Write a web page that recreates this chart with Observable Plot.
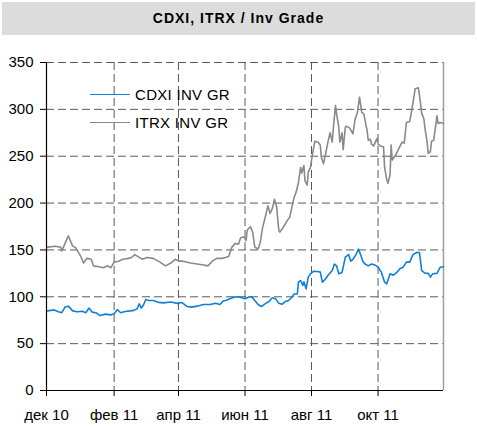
<!DOCTYPE html>
<html>
<head>
<meta charset="utf-8">
<script src="https://cdn.jsdelivr.net/npm/d3@7"></script>
<script src="https://cdn.jsdelivr.net/npm/@observablehq/plot@0.6"></script>
<style>
  html, body { margin: 0; padding: 0; background: #fff; }
  body { width: 477px; height: 428px; position: relative; overflow: hidden; font-family: "Liberation Sans", Arial, sans-serif; }
  #title { position: absolute; left: 2px; top: 2px; width: 473px; height: 33px; background: #dcdcdc;
           font: bold 14px "Liberation Sans", Arial, sans-serif; letter-spacing: 1px; line-height: 33px; text-align: center; color: #000; }
  #chart { position: absolute; left: 0; top: 35px; }
  .leg { position: absolute; left: 90px; height: 18px; font-size: 15px; line-height: 18px; color: #000; white-space: nowrap; }
  .leg .sw { position: absolute; left: 0; width: 40px; top: 8px; height: 0; }
  .leg .lbl { position: absolute; left: 45px; top: 0; letter-spacing: 0.3px; }
</style>
</head>
<body>
<div id="title">CDXI, ITRX / Inv Grade</div>
<div id="chart"></div>
<div id="legend"></div>
<script>
// ---- data ----
const seriesNames = ["CDXI INV GR", "ITRX INV GR"];
const seriesColors = ["#0f80d8", "#8a8a8a"];

const cdxiDates = ["2010-12-02","2010-12-08","2010-12-12","2010-12-15","2010-12-18","2010-12-21","2010-12-25","2010-12-29",
"2011-01-03","2011-01-06","2011-01-09","2011-01-12","2011-01-16","2011-01-19","2011-01-24","2011-01-29",
"2011-02-01","2011-02-04","2011-02-07","2011-02-11","2011-02-16","2011-02-19","2011-02-22","2011-02-24","2011-02-26","2011-02-28",
"2011-03-02","2011-03-05","2011-03-09","2011-03-14","2011-03-18","2011-03-25","2011-03-31",
"2011-04-04","2011-04-09","2011-04-13","2011-04-18","2011-04-24","2011-04-30",
"2011-05-05","2011-05-09","2011-05-12","2011-05-15","2011-05-18","2011-05-22","2011-05-26","2011-05-29",
"2011-06-01","2011-06-04","2011-06-07","2011-06-10","2011-06-13","2011-06-16","2011-06-20","2011-06-23","2011-06-26","2011-06-29",
"2011-07-02","2011-07-05","2011-07-08","2011-07-11","2011-07-14","2011-07-16","2011-07-19","2011-07-20","2011-07-22","2011-07-24","2011-07-25","2011-07-27","2011-07-29","2011-07-31",
"2011-08-03","2011-08-06","2011-08-09","2011-08-11","2011-08-14","2011-08-16","2011-08-20","2011-08-22","2011-08-24","2011-08-26","2011-08-29",
"2011-09-01","2011-09-04","2011-09-06","2011-09-08","2011-09-11","2011-09-13","2011-09-15","2011-09-17","2011-09-19","2011-09-22","2011-09-25","2011-09-28",
"2011-10-01","2011-10-04","2011-10-07","2011-10-09","2011-10-12","2011-10-15","2011-10-18","2011-10-21","2011-10-24","2011-10-27","2011-10-30",
"2011-11-02","2011-11-06","2011-11-08","2011-11-10","2011-11-13","2011-11-16","2011-11-18","2011-11-20","2011-11-24","2011-11-27","2011-11-30"];
const cdxiValues = [85,86,84,83,89,90,85,84,
84.5,83,88,83.6,82.6,80,81.5,80.7,
81.8,86.4,83,84.3,85,85.5,87,92.5,88,91.5,
97,96,96,94,93.5,94.5,93,
94,89.6,89,90,91.8,91.8,
93.2,91.8,95.4,96.4,97.8,99.6,100,99,
98,99.6,100,96,91.8,89.6,93,95,98.9,98,
93,92,95,96,99.6,103,103,115.6,117.4,112,116,108.5,121,124.5,
127.3,127,126.4,115.6,119.2,122.7,128,135,133,124.5,126,
142.3,145,138,140,145.5,151,145,138,135,133,135,134,
131.6,126.3,115.6,113.8,124.5,123,125.7,130,131.6,137,137,
145,147.6,147,128,125.2,125,121,124.5,125,131.6,132];

const itrxDates = ["2010-12-02","2010-12-09","2010-12-14","2010-12-15","2010-12-21","2010-12-25","2010-12-28",
"2011-01-01","2011-01-04","2011-01-07","2011-01-11","2011-01-13","2011-01-18","2011-01-22","2011-01-26","2011-01-29",
"2011-02-01","2011-02-05","2011-02-09","2011-02-14","2011-02-17","2011-02-20","2011-02-24","2011-02-27",
"2011-03-03","2011-03-09","2011-03-15","2011-03-20","2011-03-25","2011-03-29",
"2011-04-01","2011-04-05","2011-04-12","2011-04-18","2011-04-24","2011-04-28",
"2011-05-02","2011-05-06","2011-05-11","2011-05-14","2011-05-17","2011-05-20","2011-05-23","2011-05-26","2011-05-28","2011-05-31",
"2011-06-02","2011-06-03","2011-06-06","2011-06-08","2011-06-10","2011-06-13","2011-06-15","2011-06-17","2011-06-20","2011-06-22","2011-06-24","2011-06-26","2011-06-28","2011-06-30",
"2011-07-02","2011-07-03","2011-07-06","2011-07-09","2011-07-12","2011-07-16","2011-07-18","2011-07-20","2011-07-22","2011-07-23","2011-07-25","2011-07-26","2011-07-28","2011-07-29","2011-07-31",
"2011-08-01","2011-08-04","2011-08-07","2011-08-09","2011-08-10","2011-08-12","2011-08-14","2011-08-16","2011-08-18","2011-08-20","2011-08-21","2011-08-23","2011-08-24","2011-08-26","2011-08-27","2011-08-29","2011-08-30",
"2011-09-01","2011-09-02","2011-09-05","2011-09-08","2011-09-10","2011-09-12","2011-09-14","2011-09-16","2011-09-18","2011-09-21","2011-09-22","2011-09-24","2011-09-25","2011-09-27","2011-09-30",
"2011-10-01","2011-10-03","2011-10-06","2011-10-07","2011-10-09","2011-10-10","2011-10-12","2011-10-13","2011-10-14","2011-10-17","2011-10-20","2011-10-23","2011-10-25","2011-10-27","2011-10-30",
"2011-11-01","2011-11-03","2011-11-04","2011-11-07","2011-11-09","2011-11-10","2011-11-12","2011-11-13","2011-11-15","2011-11-16","2011-11-18","2011-11-19","2011-11-21","2011-11-23","2011-11-24","2011-11-25","2011-11-27","2011-11-30"];
const itrxValues = [153,154,153,149,165,154,152,
144,136,141,140,133,132,131,133,131,
137,138,140,141,142,145,142,140,
142,141,137,133,136,140,
138,138,136,135,134,133,
138,141,141,142,143,153,157,156,163,164,
160,171,175,169,153,151,158,173,187,197,189,194,204,196,
171,169,174,180,185,206,212,222,238,232,240,224,219,233,238,
246,266,265,262,249,242,253,265,275,265,280,304,295,281,265,275,257,
281,282,280,274,290,296,313,297,295,277,267,268,263,261,269,
263,261,260,238,225,221,230,262,246,251,258,265,264,286,287,
300,314,322,323,306,296,290,280,265,253,255,266,267,284,293,285,286,285];

const yTicks = [0, 50, 100, 150, 200, 250, 300, 350];
const xTickDates = ["2010-12-01","2011-02-01","2011-04-01","2011-06-01","2011-08-01","2011-10-01"];
const xTickLabels = ["дек 10","фев 11","апр 11","июн 11","авг 11","окт 11"];
const xDomain = ["2010-12-01","2011-11-30"];

// ---- build ----
const parse = d3.utcParse("%Y-%m-%d");
const cdxi = cdxiDates.map((d, i) => ({date: parse(d), value: cdxiValues[i]}));
const itrx = itrxDates.map((d, i) => ({date: parse(d), value: itrxValues[i]}));
const xTicks = xTickDates.map(parse);
const dom = xDomain.map(parse);
const gridColor = "#5a5a5a";

const chart = Plot.plot({
  width: 477,
  height: 393,
  marginTop: 27,
  marginBottom: 38,
  marginLeft: 46,
  marginRight: 34,
  style: {fontFamily: "'Liberation Sans', Arial, sans-serif", fontSize: "15px", color: "#000", background: "transparent", overflow: "visible"},
  x: {type: "utc", domain: dom},
  y: {domain: [0, 350]},
  marks: [
    Plot.gridY(yTicks.filter(v => v > 0), {stroke: gridColor, strokeOpacity: 1, strokeWidth: 1, strokeDasharray: "8,4"}),
    Plot.gridX(xTicks.slice(1), {stroke: gridColor, strokeOpacity: 1, strokeWidth: 1, strokeDasharray: "8,4"}),
    Plot.ruleX([dom[1]], {stroke: "#a0a0a0", strokeWidth: 1.5}),
    Plot.line(itrx, {x: "date", y: "value", stroke: seriesColors[1], strokeWidth: 1.6}),
    Plot.line(cdxi, {x: "date", y: "value", stroke: seriesColors[0], strokeWidth: 1.6}),
    Plot.ruleX([dom[0]], {stroke: "#000", strokeWidth: 1.2}),
    Plot.ruleY([0], {stroke: "#000", strokeWidth: 1.2}),
    Plot.axisY({ticks: yTicks, tickSize: 6, tickPadding: 7, label: null, fontSize: 15, stroke: "#000"}),
    Plot.axisX({ticks: xTicks, tickFormat: (d) => xTickLabels[xTicks.findIndex(t => +t === +d)], tickSize: 6, tickPadding: 13, label: null, fontSize: 15, stroke: "#000"})
  ]
});
document.getElementById("chart").appendChild(chart);

// legend
const legend = document.getElementById("legend");
const legTops = [86, 114];
seriesNames.forEach((name, i) => {
  const row = document.createElement("div");
  row.className = "leg";
  row.style.top = legTops[i] + "px";
  row.innerHTML = `<div class="sw" style="border-top:1.5px solid ${seriesColors[i]}"></div><span class="lbl">${name}</span>`;
  legend.appendChild(row);
});
</script>
</body>
</html>
